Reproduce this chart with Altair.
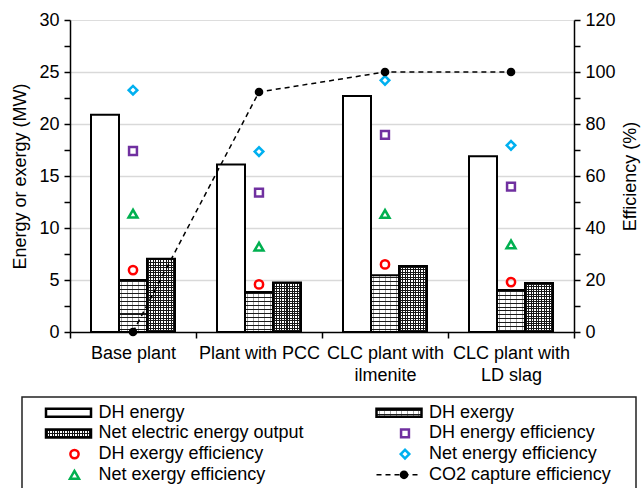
import altair as alt
import pandas as pd

FONT = "Liberation Sans"

# ---------------- data ----------------
categories = ["Base plant", "Plant with PCC", "CLC plant with\nilmenite", "CLC plant with\nLD slag"]

bar_series = ["DH energy", "DH exergy", "Net electric energy output"]
dh_energy = [20.9, 16.1, 22.7, 16.9]
dh_exergy = [5.0, 3.85, 5.45, 4.05]
net_electric = [7.05, 4.75, 6.35, 4.7]

eff_series = ["DH energy efficiency", "DH exergy efficiency", "Net energy efficiency", "Net exergy efficiency"]
dh_energy_eff = [69.6, 53.6, 75.8, 55.9]
dh_exergy_eff = [23.8, 18.3, 26.0, 19.2]
net_energy_eff = [93.0, 69.4, 96.8, 71.8]
net_exergy_eff = [45.5, 32.8, 45.4, 33.7]

co2_name = "CO2 capture efficiency"
co2_capture_eff = [0.0, 92.3, 100.0, 100.0]

legend_order = ["DH energy", "DH exergy", "Net electric energy output", "DH energy efficiency",
                "DH exergy efficiency", "Net energy efficiency", "Net exergy efficiency", co2_name]

left_ticks = [0, 2.5, 5, 7.5, 10, 12.5, 15, 17.5, 20, 22.5, 25, 27.5, 30]
right_ticks = [0, 10, 20, 30, 40, 50, 60, 70, 80, 90, 100, 110, 120]

# ---------------- styles ----------------
PLOT_W, PLOT_H = 504, 312
Y_MAX = 30
eff_shapes = ["square", "circle", "diamond", "triangle-up"]
eff_colors = ["#7030a0", "#ff0000", "#00b0f0", "#00b050"]
eff_sizes = [62, 80, 120, 95]


def stripes(n, line_color, bg, vertical, width_frac):
    """Linear gradient with n sharp stripes (used as a hatch texture)."""
    stops = [alt.GradientStop(offset=0, color=bg)]
    for k in range(n):
        c = (k + 0.5) / n
        a, b = max(c - width_frac / 2, 0), min(c + width_frac / 2, 1)
        stops += [alt.GradientStop(offset=a, color=bg), alt.GradientStop(offset=a, color=line_color),
                  alt.GradientStop(offset=b, color=line_color), alt.GradientStop(offset=b, color=bg)]
    stops.append(alt.GradientStop(offset=1, color=bg))
    if vertical:
        return alt.LinearGradient(gradient="linear", stops=stops, x1=0, y1=0, x2=1, y2=0)
    return alt.LinearGradient(gradient="linear", stops=stops, x1=0, y1=0, x2=0, y2=1)


CLEAR = "rgba(0,0,0,0)"
BAR_W = 28
# texture definitions: (vertical line period, vertical colour, horizontal period, horizontal colour)
textures = {
    "DH exergy": (5.5, "#a0a0a0", 4.0, "#1a1a1a"),
    "Net electric energy output": (2.5, "#151515", 2.5, "#151515"),
}

bars_df = pd.DataFrame({
    "category": categories * 3,
    "series": [s for s in bar_series for _ in categories],
    "value": dh_energy + dh_exergy + net_electric,
})
eff_df = pd.DataFrame({
    "category": categories * 4,
    "series": [s for s in eff_series for _ in categories],
    "value": dh_energy_eff + dh_exergy_eff + net_energy_eff + net_exergy_eff,
})
co2_df = pd.DataFrame({"category": categories, "value": co2_capture_eff})

shape_scale = alt.Scale(domain=eff_series, range=eff_shapes)
stroke_scale = alt.Scale(domain=eff_series, range=eff_colors)
size_scale = alt.Scale(domain=eff_series, range=eff_sizes)

x_enc = alt.X(
    "category:N", sort=categories,
    scale=alt.Scale(domain=categories, paddingInner=0, paddingOuter=0),
    axis=alt.Axis(title=None, labelExpr="split(datum.label, '\\n')", labelAngle=0,
                  tickBand="extent", tickSize=6, tickColor="black", tickWidth=1.5,
                  domainColor="black", domainWidth=1.5, labelFont=FONT, labelFontSize=18,
                  labelColor="black", labelPadding=6, labelLineHeight=22, grid=False),
)
xoff_enc = alt.XOffset("series:N", sort=bar_series,
                       scale=alt.Scale(domain=bar_series, paddingInner=0, paddingOuter=0.75))
left_y = alt.Y("value:Q", scale=alt.Scale(domain=[0, Y_MAX], nice=False),
               axis=alt.Axis(title="Energy or exergy (MW)", values=left_ticks,
                             labelExpr="datum.value % 5 === 0 ? datum.label : ''",
                             grid=True, gridColor="#d9d9d9", gridWidth=1.5,
                             gridOpacity={"condition": {"test": "datum.value % 5 === 0 && datum.value > 0 && datum.value < 30", "value": 1}, "value": 0},
                             tickSize=6, tickColor="black", tickWidth=1.5,
                             domainColor="black", domainWidth=1.5,
                             labelFont=FONT, labelFontSize=18, labelColor="black", labelPadding=5,
                             titleFont=FONT, titleFontSize=18, titleFontWeight="normal",
                             titleColor="black", titlePadding=9))

bar_layers = []
# plain white bars
bar_layers.append(
    alt.Chart(bars_df).transform_filter(alt.FieldEqualPredicate(field="series", equal="DH energy"))
    .mark_bar(fill="white", stroke="black", strokeWidth=2)
    .encode(x=x_enc, xOffset=xoff_enc, y=left_y)
)
# textured bars: vertical hatch base + per-bar horizontal hatch overlay
for s, (vp, vcol, hp, hcol) in textures.items():
    nv = round(BAR_W / vp)
    bar_layers.append(
        alt.Chart(bars_df).transform_filter(alt.FieldEqualPredicate(field="series", equal=s))
        .mark_bar(fill=stripes(nv, vcol, "white", True, 1.0 / BAR_W), strokeWidth=0)
        .encode(x=x_enc, xOffset=xoff_enc, y=left_y)
    )
    vals = bars_df[bars_df.series == s]
    for cat, v in zip(vals.category, vals.value):
        h = v / Y_MAX * PLOT_H
        nh = max(1, round(h / hp))
        bar_layers.append(
            alt.Chart(bars_df).transform_filter(
                alt.FieldEqualPredicate(field="series", equal=s)
            ).transform_filter(alt.FieldEqualPredicate(field="category", equal=cat))
            .mark_bar(fill=stripes(nh, hcol, CLEAR, False, 1.0 / h), stroke="black", strokeWidth=2)
            .encode(x=x_enc, xOffset=xoff_enc, y=left_y)
        )

right_y = alt.Y("value:Q", scale=alt.Scale(domain=[0, 120], nice=False),
                axis=alt.Axis(orient="right", title="Efficiency (%)", values=right_ticks,
                              labelExpr="datum.value % 20 === 0 ? datum.label : ''",
                              grid=False, tickSize=6, tickColor="black", tickWidth=1.5,
                              domainColor="black", domainWidth=1.5,
                              labelFont=FONT, labelFontSize=18, labelColor="black", labelPadding=5,
                              titleFont=FONT, titleFontSize=18, titleFontWeight="normal",
                              titleColor="black", titlePadding=6, titleAngle=270,
                              titleBaseline="top"))

eff_points = alt.Chart(eff_df).mark_point(filled=False, strokeWidth=2.5, opacity=1).encode(
    x=x_enc,
    y=right_y,
    shape=alt.Shape("series:N", scale=shape_scale, legend=None),
    stroke=alt.Stroke("series:N", scale=stroke_scale, legend=None),
    size=alt.Size("series:N", scale=size_scale, legend=None),
)

co2_line = alt.Chart(co2_df).mark_line(color="black", strokeDash=[5, 4], strokeWidth=1.5).encode(
    x=x_enc, y=right_y)
co2_pts = alt.Chart(co2_df).mark_point(filled=True, color="black", size=75, opacity=1).encode(
    x=x_enc, y=right_y)

right_layer = alt.layer(co2_line, eff_points, co2_pts)
plot = alt.layer(alt.layer(*bar_layers), right_layer).resolve_scale(y="independent")

# ---------------- legend (drawn below the plot, own scales) ----------------
leg_df = pd.DataFrame({
    "name": legend_order,
    "col": [i % 2 for i in range(len(legend_order))],
    "row": [i // 2 for i in range(len(legend_order))],
})
lx = alt.X("col:Q", scale=alt.Scale(domain=[0, 1], range=[-1.5, 329]), axis=None)
ly = alt.Y("row:Q", scale=alt.Scale(domain=[0, 3], range=[392.7, 454.8]), axis=None)

ICON_W, ICON_H = 45, 8
rect_path = "M-1,-%.4fH1V%.4fH-1Z" % (ICON_H / ICON_W, ICON_H / ICON_W)
icon_size = ICON_W ** 2

leg_box = alt.Chart(pd.DataFrame({"box": [0]})).mark_rect(
    fill="white", fillOpacity=0, stroke="#222222", strokeWidth=1.5
).encode(x=alt.value(-48), x2=alt.value(566), y=alt.value(377), y2=alt.value(490))
leg_text = alt.Chart(leg_df).mark_text(align="left", baseline="middle", dx=30, font=FONT,
                                       fontSize=18, color="black").encode(x=lx, y=ly, text="name:N")

leg_layers = [leg_box]
leg_layers.append(
    alt.Chart(leg_df).transform_filter(alt.FieldEqualPredicate(field="name", equal="DH energy"))
    .mark_point(shape=rect_path, size=icon_size, filled=True, fill="white", stroke="black",
                strokeWidth=2.5, opacity=1).encode(x=lx, y=ly)
)
for s, (vp, vcol, hp, hcol) in textures.items():
    nv = round(ICON_W / vp)
    nh = max(1, round(ICON_H / hp))
    base = alt.Chart(leg_df).transform_filter(alt.FieldEqualPredicate(field="name", equal=s))
    leg_layers.append(
        base.mark_point(shape=rect_path, size=icon_size, filled=True,
                        fill=stripes(nv, vcol, "white", True, 1.0 / ICON_W), strokeWidth=0,
                        opacity=1).encode(x=lx, y=ly)
    )
    leg_layers.append(
        base.mark_point(shape=rect_path, size=icon_size, filled=True,
                        fill=stripes(nh, hcol, CLEAR, False, 1.0 / ICON_H), stroke="black",
                        strokeWidth=2.5, opacity=1).encode(x=lx, y=ly)
    )
leg_layers.append(
    alt.Chart(leg_df).transform_filter(alt.FieldOneOfPredicate(field="name", oneOf=eff_series))
    .mark_point(filled=False, strokeWidth=2.5, opacity=1, xOffset=6).encode(
        x=lx, y=ly,
        shape=alt.Shape("name:N", scale=shape_scale, legend=None),
        stroke=alt.Stroke("name:N", scale=stroke_scale, legend=None),
        size=alt.Size("name:N", scale=size_scale, legend=None),
    )
)
co2_base = alt.Chart(leg_df).transform_filter(alt.FieldEqualPredicate(field="name", equal=co2_name))
leg_layers.append(
    co2_base.mark_point(shape="M-1,0H1", size=icon_size, filled=False, stroke="black",
                        strokeWidth=1.5, strokeDash=[5, 4], opacity=1).encode(x=lx, y=ly)
)
leg_layers.append(
    co2_base.mark_point(filled=True, color="black", size=75, opacity=1, xOffset=5).encode(x=lx, y=ly)
)
leg_layers.append(leg_text)
legend = alt.layer(*leg_layers)

chart = alt.layer(plot, legend).resolve_scale(
    x="independent", y="independent", shape="independent", stroke="independent",
    size="independent"
).properties(
    width=PLOT_W, height=PLOT_H,
    autosize=alt.AutoSizeParams(type="none"),
    padding={"left": 70, "top": 20, "right": 67, "bottom": 156},
).configure_view(stroke="black", strokeWidth=1.5).configure(background="white", font=FONT)

chart.save("out.html", embed_options={"renderer": "svg", "actions": False})
